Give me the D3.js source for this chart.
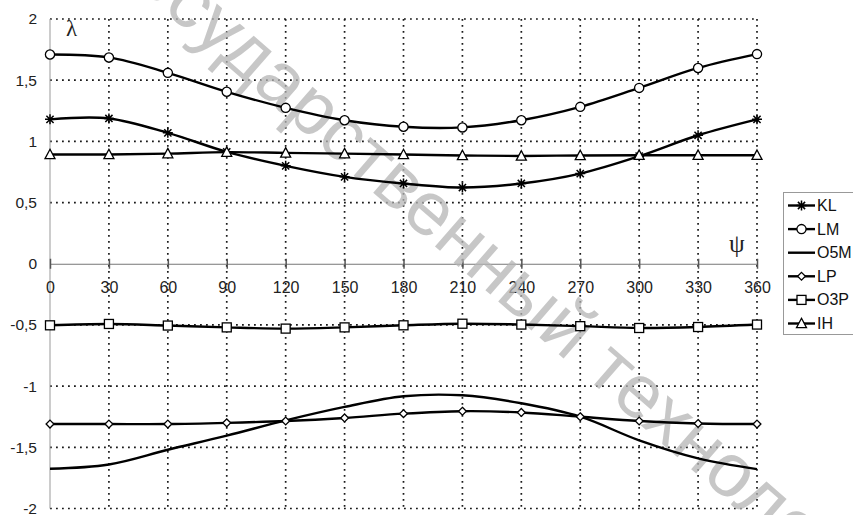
<!DOCTYPE html>
<html><head><meta charset="utf-8">
<script src="https://cdn.jsdelivr.net/npm/d3@7"></script>
<style>body{margin:0;background:#fff}svg{display:block}</style>
</head><body>
<svg id="c" width="853" height="515"></svg>
<script>
const angles = [0,30,60,90,120,150,180,210,240,270,300,330,360];
const xTicks = [0,30,60,90,120,150,180,210,240,270,300,330,360];
const yTicks = [2,1.5,1,0.5,0,-0.5,-1,-1.5,-2];
const yTickLabels = ["2","1,5","1","0,5","0","-0,5","-1","-1,5","-2"];
const seriesNames = ["KL","LM","O5M","LP","O3P","IH"];
const seriesMarkers = ["star","circle","none","diamond","square","triangle"];
const KL  = [1.18,1.187,1.07,0.914,0.80,0.71,0.656,0.623,0.656,0.737,0.879,1.05,1.18];
const LM  = [1.71,1.686,1.56,1.405,1.274,1.173,1.119,1.114,1.173,1.282,1.437,1.60,1.713];
const O5M = [-1.675,-1.64,-1.52,-1.405,-1.28,-1.17,-1.083,-1.075,-1.14,-1.25,-1.443,-1.59,-1.678];
const LP  = [-1.31,-1.31,-1.31,-1.30,-1.285,-1.26,-1.225,-1.205,-1.215,-1.25,-1.285,-1.305,-1.31];
const O3P = [-0.503,-0.492,-0.505,-0.52,-0.53,-0.52,-0.503,-0.49,-0.497,-0.51,-0.525,-0.517,-0.497];
const IH  = [0.893,0.893,0.90,0.912,0.906,0.90,0.893,0.885,0.881,0.885,0.887,0.887,0.887];
const seriesValues = [KL,LM,O5M,LP,O3P,IH];
const xLabel = "\u03c8", yLabel = "\u03bb";
const watermark = "государственный технологический";

const svg = d3.select("#c");
const x = d3.scaleLinear().domain([0,360]).range([50,757]);
const y = d3.scaleLinear().domain([-2,2]).range([508.5,19]);
const sans = "Arial, 'Liberation Sans', sans-serif";

// grid
const grid = svg.append("g").attr("stroke","#1a1a1a").attr("stroke-width",1.7).attr("stroke-dasharray","1.8,4.2");
grid.selectAll("line.h").data(yTicks.filter(v=>v!==0)).join("line")
  .attr("x1",x(0)).attr("x2",x(360)).attr("y1",d=>y(d)).attr("y2",d=>y(d));
grid.selectAll("line.v").data(xTicks.filter(v=>v!==0)).join("line")
  .attr("y1",y(2)).attr("y2",y(-2)).attr("x1",d=>x(d)).attr("x2",d=>x(d));

// axes
svg.append("line").attr("x1",x(0)).attr("x2",x(0)).attr("y1",y(2)).attr("y2",y(-2)).attr("stroke","#999").attr("stroke-width",1);
const xa = svg.append("g").attr("transform",`translate(0,${y(0)})`)
  .call(d3.axisBottom(x).tickValues(xTicks).tickSizeInner(0).tickSizeOuter(0).tickPadding(18));
xa.select(".domain").attr("stroke","#777");
xa.selectAll(".tick line").attr("y1",-5).attr("y2",5).attr("stroke","#555").attr("stroke-width",1.5);
xa.selectAll("text").attr("font-family",sans).attr("font-size",16).attr("fill","#222");
const ya = svg.append("g").attr("transform",`translate(${x(0)},0)`)
  .call(d3.axisLeft(y).tickValues(yTicks).tickFormat((d,i)=>yTickLabels[i]).tickSize(0).tickPadding(13));
ya.select(".domain").remove();
ya.selectAll("text").attr("font-family",sans).attr("font-size",15.5).attr("fill","#222");

// watermark
svg.append("text").text(watermark)
  .attr("transform","translate(110,-36) rotate(41)")
  .attr("font-family",sans).attr("font-size",76)
  .attr("fill","#b4b4b4").attr("fill-opacity",0.75);

svg.append("text").text(yLabel).attr("x",66).attr("y",36).attr("font-family","'Liberation Serif', serif").attr("font-size",23).attr("fill","#222");
svg.append("text").text(xLabel).attr("x",729).attr("y",252).attr("font-family","'Liberation Serif', serif").attr("font-size",25).attr("fill","#222");

function drawMarker(g, type, cx, cy){
  const s = g.append("g").attr("transform",`translate(${cx},${cy})`).attr("stroke","#000").attr("stroke-width",1.3).attr("fill","#fff");
  if(type==="circle") s.append("circle").attr("r",4.6);
  else if(type==="square") s.append("rect").attr("x",-4.5).attr("y",-4.5).attr("width",9).attr("height",9);
  else if(type==="triangle") s.append("path").attr("d","M0,-5.2L5,4.2L-5,4.2Z");
  else if(type==="diamond") s.append("path").attr("d","M0,-3.9L3.9,0L0,3.9L-3.9,0Z");
  else if(type==="star"){
    s.append("path").attr("d","M-5,0H5M0,-5V5M-3.6,-3.6L3.6,3.6M-3.6,3.6L3.6,-3.6").attr("stroke-width",1.5);
  }
}

const line = d3.line().x(d=>x(d[0])).y(d=>y(d[1])).curve(d3.curveCatmullRom.alpha(0.5));
seriesValues.forEach((vals,si)=>{
  const pts = angles.map((a,i)=>[a,vals[i]]);
  svg.append("path").attr("d",line(pts)).attr("fill","none").attr("stroke","#000").attr("stroke-width",2.4);
  const g = svg.append("g");
  if(seriesMarkers[si]!=="none") pts.forEach(p=>drawMarker(g,seriesMarkers[si],x(p[0]),y(p[1])));
});

// legend
const lg = svg.append("g");
lg.append("rect").attr("x",783.5).attr("y",192.5).attr("width",80).attr("height",142).attr("fill","#fff").attr("stroke","#999");
seriesNames.forEach((n,i)=>{
  const yy = 205.5 + i*23.6;
  lg.append("line").attr("x1",788).attr("x2",815).attr("y1",yy).attr("y2",yy).attr("stroke","#000").attr("stroke-width",2.4);
  if(seriesMarkers[i]!=="none") drawMarker(lg,seriesMarkers[i],801.5,yy);
  lg.append("text").text(n).attr("x",817).attr("y",yy+5.5).attr("font-family",sans).attr("font-size",16).attr("fill","#111");
});
</script>
</body></html>
